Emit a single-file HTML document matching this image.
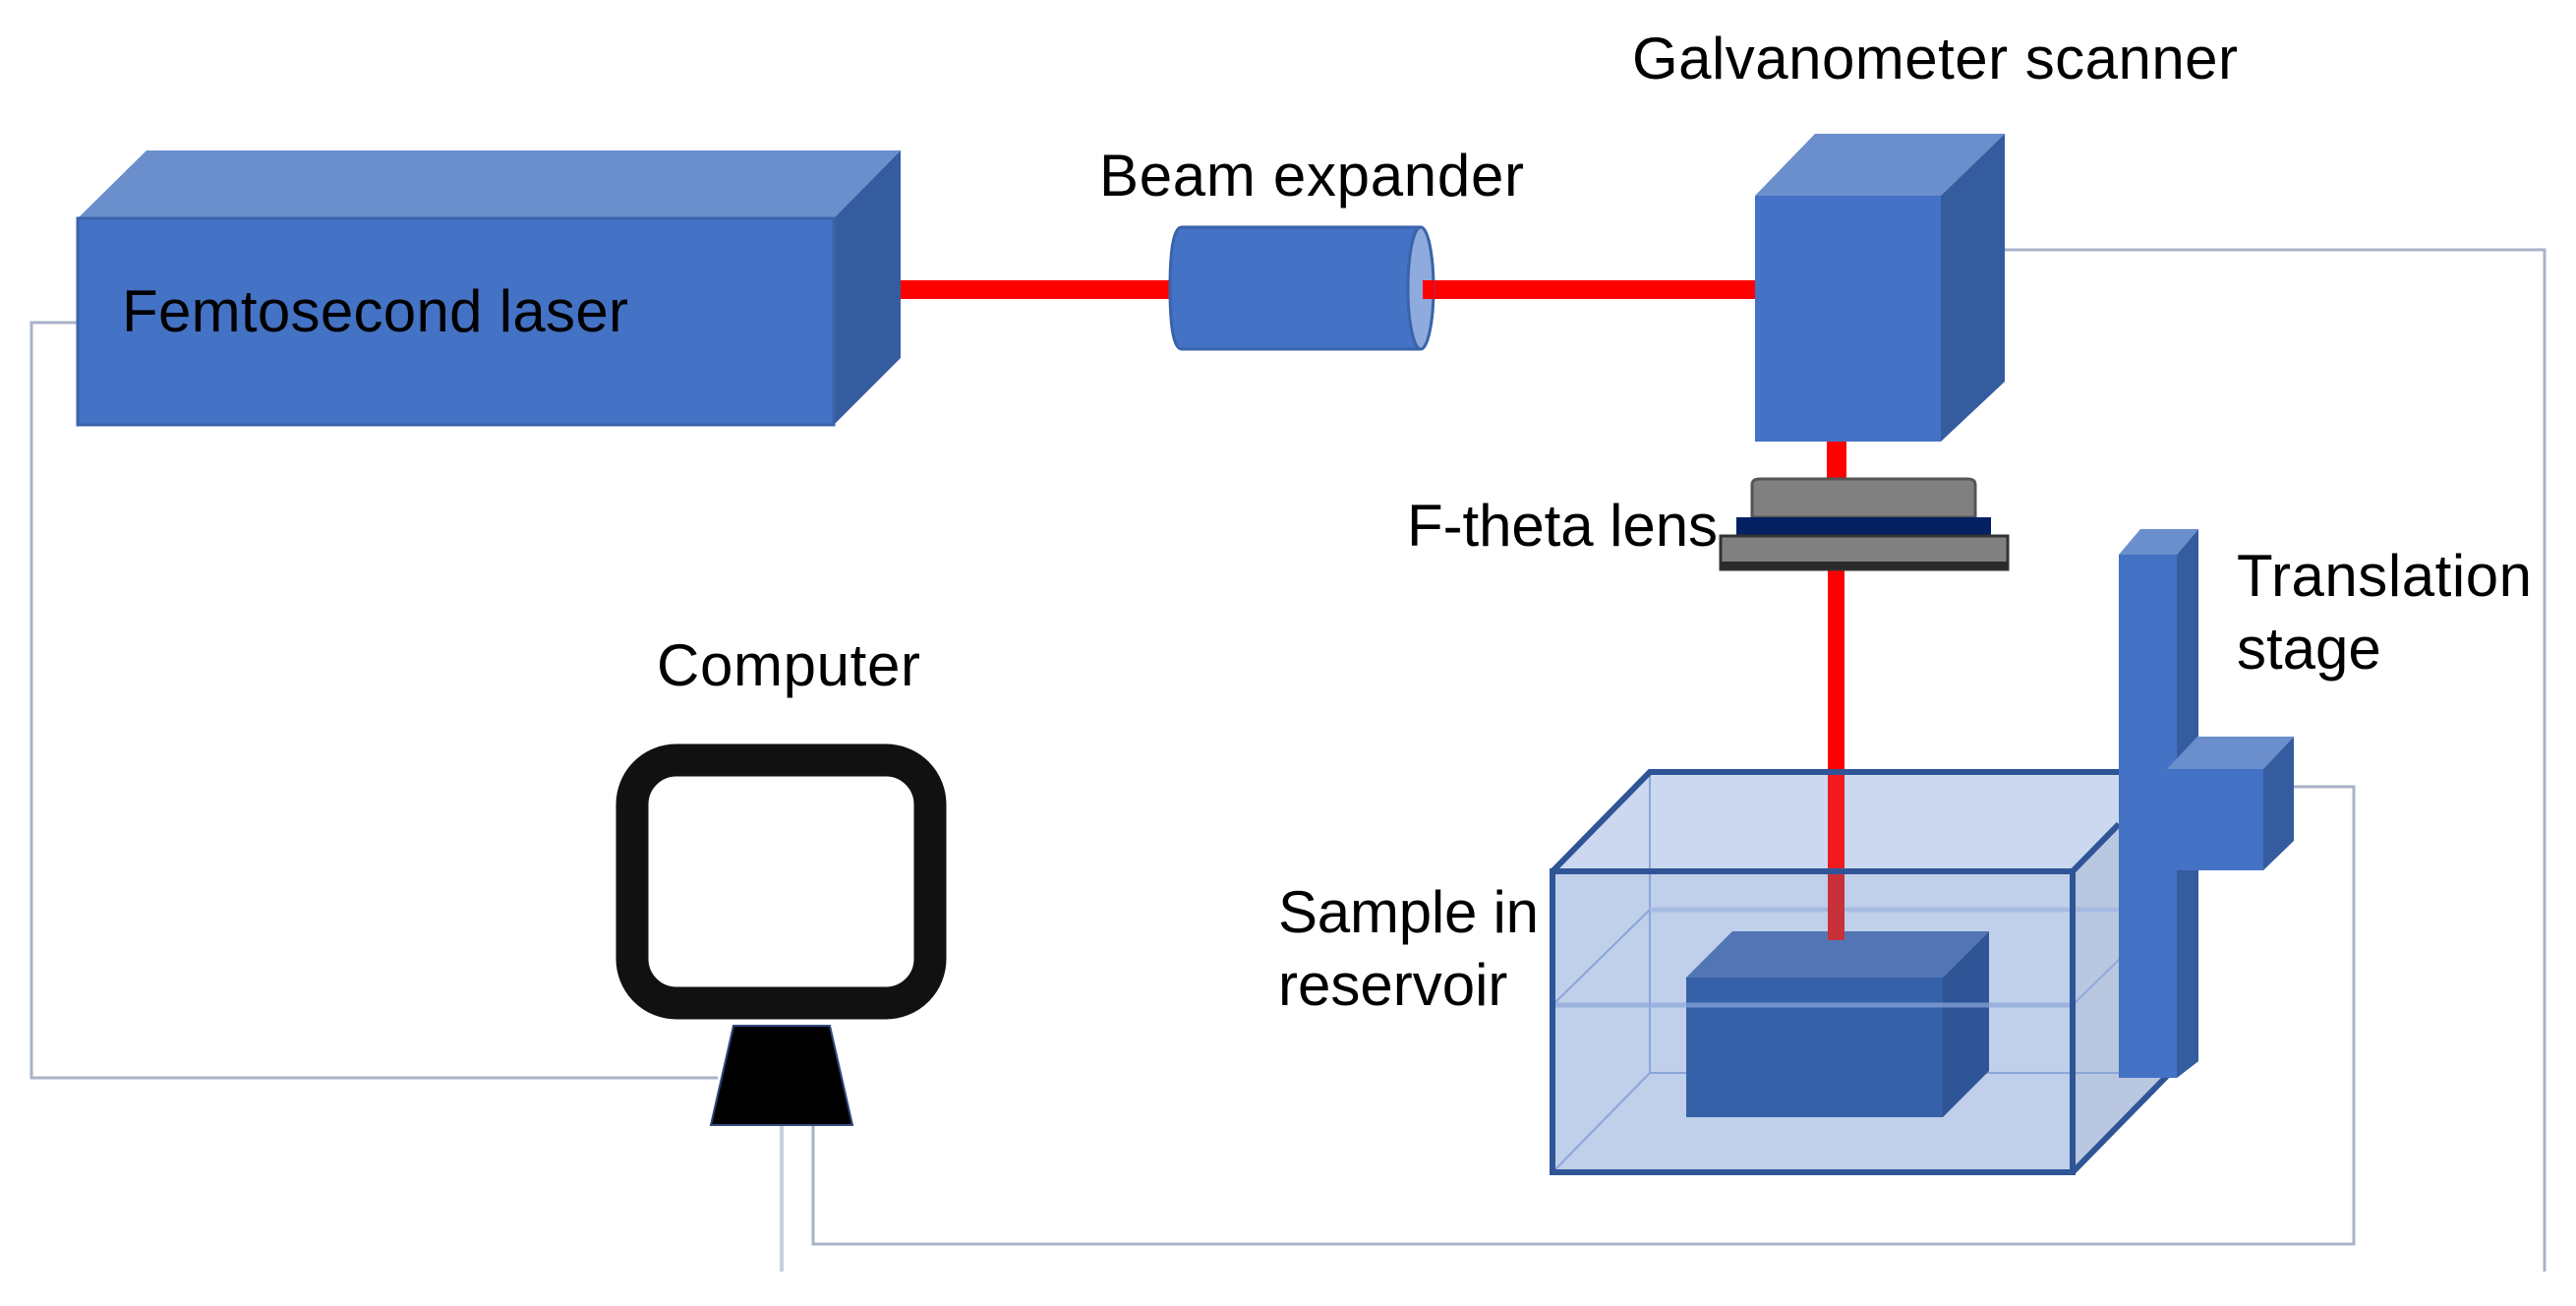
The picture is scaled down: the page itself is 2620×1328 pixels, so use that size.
<!DOCTYPE html>
<html><head><meta charset="utf-8"><style>
html,body{margin:0;padding:0;background:#fff;}
svg{display:block;}
text{font-family:"Liberation Sans",Arial,sans-serif;font-size:60px;fill:#000;}
</style></head><body>
<svg width="2620" height="1328" viewBox="0 0 2620 1328" xmlns="http://www.w3.org/2000/svg">
<g fill="none" stroke="#a8b3c9" stroke-width="3">
<polyline points="79,328 32,328 32,1096 730,1096"/>
<polyline points="2039,254 2588,254 2588,1293"/>
<polyline points="2333,800 2394,800 2394,1265 827,1265 827,1145"/>
</g>
<line x1="795" y1="1145" x2="795" y2="1293" stroke="#c8cfdc" stroke-width="4"/>

<polygon points="79,222 149,153 916,153 848,222" fill="#6a8fcc"/>
<polygon points="848,222 916,153 916,364 848,432" fill="#355c9f"/>
<rect x="79" y="222" width="769" height="210" fill="#4472c4" stroke="#3a63ab" stroke-width="3"/>
<text x="124" y="337" textLength="515">Femtosecond laser</text>

<rect x="916" y="285" width="280" height="19" fill="#ff0000"/>
<rect x="1445" y="285" width="342" height="19" fill="#ff0000"/>

<path d="M1202,231 L1445,231 L1445,355 L1202,355 Q1190,355 1190,293 Q1190,231 1202,231 Z" fill="#4472c4" stroke="#3a63ab" stroke-width="3"/>
<ellipse cx="1445" cy="293" rx="13" ry="62" fill="#8faadc" stroke="#3a63ab" stroke-width="3"/>
<rect x="1447" y="285" width="12" height="19" fill="#ff0000"/>
<text x="1118" y="199" textLength="432">Beam expander</text>

<text x="1660" y="80" textLength="616">Galvanometer scanner</text>
<polygon points="1785,199 1846,136 2039,136 1974,199" fill="#6a8fcc"/>
<polygon points="1974,199 2039,136 2039,388 1974,449" fill="#355c9f"/>
<rect x="1785" y="199" width="189" height="250" fill="#4472c4"/>

<rect x="1858" y="449" width="20" height="40" fill="#ff0000"/>
<rect x="1859" y="579" width="17" height="310" fill="#ff0000"/>

<path d="M1782,526 L1782,493 Q1782,487 1790,487 L2001,487 Q2009,487 2009,493 L2009,526 Z" fill="#808080" stroke="#555" stroke-width="3"/>
<rect x="1766" y="526" width="259" height="18" fill="#032063"/>
<rect x="1750" y="545" width="292" height="34" fill="#808080" stroke="#333" stroke-width="3"/>
<rect x="1750" y="571" width="292" height="8" fill="#2a2a2a"/>
<text x="1431" y="555" textLength="316">F-theta lens</text>

<polygon points="2155,564 2177,538 2236,538 2214,564" fill="#6a8fcc"/>
<polygon points="2214,564 2236,538 2236,1079 2214,1096" fill="#355c9f"/>
<rect x="2155" y="564" width="59" height="532" fill="#4472c4"/>

<g>
<polygon points="1579,886 1678,785 2207,785 2108,886" fill="#ccd8ef"/>
<rect x="1859" y="785" width="17" height="101" fill="#f21a1f"/>
<polygon points="2108,886 2207,785 2207,1090 2108,1192" fill="#bac7e0"/>
<rect x="1579" y="886" width="529" height="306" fill="#c0cfea"/>
<g stroke="#8aa5d8" stroke-width="2" fill="none">
<polyline points="1579,1192 1678,1091 2207,1091"/>
<line x1="1678" y1="785" x2="1678" y2="1091"/>
<line x1="1678" y1="925" x2="2207" y2="925" stroke-width="5" stroke="#a7bbe2"/>
<line x1="1579" y1="1022" x2="1678" y2="925"/>
</g>
<polygon points="1715,994 1762,947 2023,947 1976,994" fill="#5375b5"/>
<polygon points="1976,994 2023,947 2023,1089 1976,1136" fill="#2f5597"/>
<rect x="1715" y="994" width="261" height="142" fill="#3561a8"/>
<line x1="1579" y1="1022" x2="2108" y2="1022" stroke="#8ea8dc" stroke-width="5" opacity="0.7"/>
<line x1="2108" y1="1022" x2="2207" y2="925" stroke="#8ea8dc" stroke-width="2"/>
<rect x="1859" y="886" width="17" height="70" fill="#c8303a"/>
<g stroke="#2f5597" stroke-width="6" fill="none">
<polyline points="1579,886 1678,785 2160,785"/>
<rect x="1579" y="886" width="529" height="306"/>
<line x1="2108" y1="886" x2="2155" y2="838"/>
<line x1="2108" y1="1192" x2="2207" y2="1091"/>
</g>
</g>
<rect x="2155" y="760" width="59" height="336" fill="#4472c4"/>
<polygon points="2214,760 2236,740 2236,1079 2214,1096" fill="#355c9f"/>

<polygon points="2204,782 2235,749 2333,749 2302,782" fill="#6a8fcc"/>
<polygon points="2302,782 2333,749 2333,855 2302,885" fill="#355c9f"/>
<rect x="2204" y="782" width="98" height="103" fill="#4472c4"/>

<text x="2275" y="606" textLength="300">Translation</text>
<text x="2275" y="680">stage</text>
<text x="1300" y="948" textLength="265">Sample in</text>
<text x="1300" y="1022">reservoir</text>

<text x="668" y="697" textLength="268">Computer</text>
<rect x="643" y="773" width="303" height="247" rx="45" ry="45" fill="none" stroke="#111" stroke-width="33"/>
<polygon points="746,1043 844,1043 867,1144 723,1144" fill="#000" stroke="#2f4a80" stroke-width="2"/>
</svg>
</body></html>
